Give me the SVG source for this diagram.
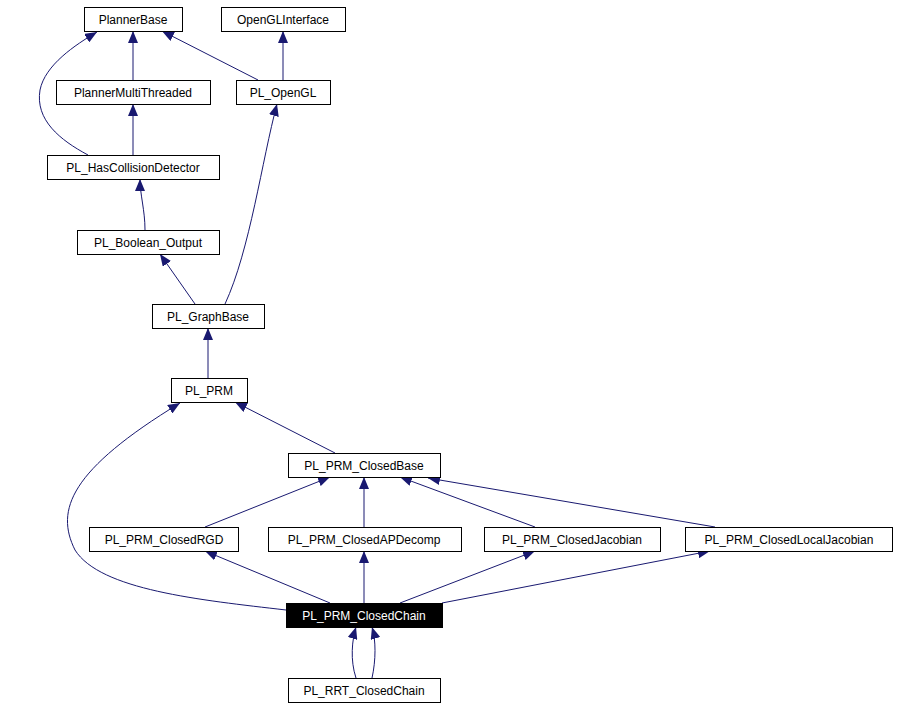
<svg xmlns="http://www.w3.org/2000/svg" width="897" height="709" viewBox="0 0 897 709">
<style>
.n rect{fill:#fff;stroke:#000;stroke-width:1}
.n text{font-family:"Liberation Sans",Arial,sans-serif;font-size:12px;text-anchor:middle;fill:#000}
#n_chain rect{fill:#000}
#n_chain text{fill:#fff}
#edges path{fill:none;stroke:#191970;stroke-width:1;marker-end:url(#a)}
</style>
<defs><marker id="a" viewBox="0 0 12 10" refX="12" refY="5" markerWidth="12" markerHeight="10" markerUnits="userSpaceOnUse" orient="auto"><path d="M0,0L12,5L0,10z" fill="#191970"/></marker></defs>
<rect width="897" height="709" fill="#fff"/>
<g id="edges">
<path d="M133,80V31"/>
<path d="M258,80L162,31"/>
<path d="M283,80V31"/>
<path d="M133,155V104"/>
<path d="M88,155C60,140 35,120 40,90C45,65 75,45 97,32"/>
<path d="M145,230C145,210 140,195 140,179"/>
<path d="M195,304L160,254"/>
<path d="M225,304C250,250 262,160 277,104"/>
<path d="M208,378V328"/>
<path d="M335,453L235,402"/>
<path d="M205,527L330,477"/>
<path d="M364,527V477"/>
<path d="M535,527L400,477"/>
<path d="M715,527L428,478"/>
<path d="M286,610C200,600 100,590 75,550C55,510 70,470 180,403"/>
<path d="M330,603L205,551"/>
<path d="M364,603V551"/>
<path d="M400,603L535,551"/>
<path d="M442,603L710,551"/>
<path d="M356,678C350,660 352,640 356,627"/>
<path d="M372,678C376,660 376,640 372,627"/>
</g>
<g id="n_pb" class="n"><rect x="84.5" y="7.5" width="98" height="24"/><text x="133" y="24">PlannerBase</text></g>
<g id="n_ogli" class="n"><rect x="221.5" y="7.5" width="124" height="24"/><text x="283" y="24">OpenGLInterface</text></g>
<g id="n_pmt" class="n"><rect x="56.5" y="80.5" width="154" height="24"/><text x="133" y="97">PlannerMultiThreaded</text></g>
<g id="n_ogl" class="n"><rect x="236.5" y="80.5" width="94" height="24"/><text x="283" y="97">PL_OpenGL</text></g>
<g id="n_hcd" class="n"><rect x="47.5" y="155.5" width="172" height="24"/><text x="133" y="172">PL_HasCollisionDetector</text></g>
<g id="n_bo" class="n"><rect x="77.5" y="230.5" width="142" height="24"/><text x="148" y="247">PL_Boolean_Output</text></g>
<g id="n_gb" class="n"><rect x="152.5" y="304.5" width="112" height="24"/><text x="208" y="321">PL_GraphBase</text></g>
<g id="n_prm" class="n"><rect x="171.5" y="378.5" width="76" height="24"/><text x="209" y="395">PL_PRM</text></g>
<g id="n_cb" class="n"><rect x="288.5" y="453.5" width="152" height="24"/><text x="364" y="470">PL_PRM_ClosedBase</text></g>
<g id="n_rgd" class="n"><rect x="89.5" y="527.5" width="149" height="24"/><text x="164" y="544">PL_PRM_ClosedRGD</text></g>
<g id="n_apd" class="n"><rect x="268.5" y="527.5" width="193" height="24"/><text x="364" y="544">PL_PRM_ClosedAPDecomp</text></g>
<g id="n_jac" class="n"><rect x="484.5" y="527.5" width="176" height="24"/><text x="572" y="544">PL_PRM_ClosedJacobian</text></g>
<g id="n_ljac" class="n"><rect x="685.5" y="527.5" width="207" height="24"/><text x="789" y="544">PL_PRM_ClosedLocalJacobian</text></g>
<g id="n_chain" class="n"><rect x="286.5" y="603.5" width="156" height="24"/><text x="364" y="620">PL_PRM_ClosedChain</text></g>
<g id="n_rrt" class="n"><rect x="288.5" y="678.5" width="152" height="24"/><text x="364" y="695">PL_RRT_ClosedChain</text></g>
</svg>
